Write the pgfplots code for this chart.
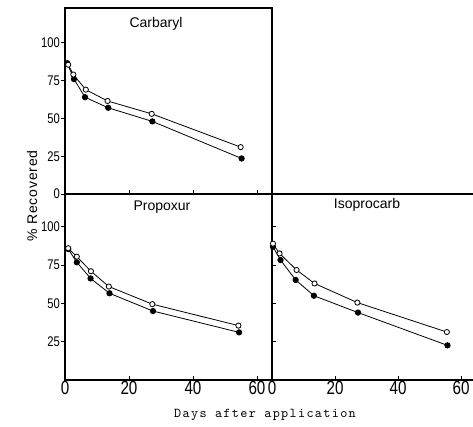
\documentclass[border=0pt]{standalone}
\usepackage{fontspec}
\setmainfont{Liberation Sans}
\newfontfamily\tickfont[FakeStretch=0.8]{Liberation Sans}
\newfontfamily\ylabfont[LetterSpace=6]{Liberation Sans}
\newfontfamily\daysfont[LetterSpace=10]{lmmono10-regular.otf}
\usepackage{pgfplots}
\usepackage{pgfplotstable}
\pgfplotsset{compat=1.18}

\pgfplotstableread{
x y
1.0 85.5
2.6 79
6.5 69
13.3 61.5
27.1 53
54.9 31
}\carbO
\pgfplotstableread{
x y
0.7 86.5
2.8 76
6.25 64
13.5 57
27.3 48
55.2 23.5
}\carbF
\pgfplotstableread{
x y
1.0 86
3.7 80.5
8.1 71
13.7 61
27.3 49.5
54.2 35.5
}\propO
\pgfplotstableread{
x y
1.0 85.5
3.7 76.8
8.0 66.3
13.9 56.6
27.5 45
54.4 31.1
}\propF
\pgfplotstableread{
x y
0.3 89
2.4 82.6
7.8 71.8
13.5 63
27.1 50.5
55.5 31.3
}\isoO
\pgfplotstableread{
x y
0.3 87
2.7 78.3
7.5 65.3
13.3 55
27.3 44
55.7 22.6
}\isoF

\pgfplotsset{
  panel/.style={
    scale only axis, anchor=south west, clip=false,
    xmin=0, ymin=0,
    axis line style={line width=1.2pt},
    major tick length=4pt,
    tick style={line width=0.8pt, black},
    xtick pos=left, ytick pos=left,
    xtick align=inside,
    /pgf/number format/assume math mode=true,
    yticklabel style={font=\fontsize{14}{14}\tickfont, inner sep=1pt},
    xticklabel style={font=\fontsize{19}{19}\tickfont, inner sep=1pt},
  },
  openser/.style={black, line width=0.8pt, mark=*, mark size=2.6pt,
    mark options={fill=white, draw=black, line width=0.8pt}},
  fillser/.style={black, line width=0.8pt, mark=*, mark size=2.7pt,
    mark options={fill=black, draw=black}},
}

\begin{document}
\begin{tikzpicture}[x=1pt,y=1pt]
\useasboundingbox (0pt,0pt) rectangle (473pt,427pt);

% Carbaryl (top left)
\begin{axis}[panel, at={(65pt,233pt)}, width=207pt, height=186pt,
  xmax=64.7, ymax=123,
  ytick={0,25,50,75,100}, ytick align=outside,
  xtick={20,40,60}, xticklabels={}]
\addplot[fillser] table[x=x,y=y] {\carbF};
\addplot[openser] table[x=x,y=y] {\carbO};
\end{axis}

% Propoxur (bottom left)
\begin{axis}[panel, at={(65pt,47pt)}, width=207pt, height=186pt,
  xmax=64.7, ymax=121.4,
  ytick={25,50,75,100}, ytick align=outside,
  xtick={0,20,40,60}]
\addplot[fillser] table[x=x,y=y] {\propF};
\addplot[openser] table[x=x,y=y] {\propO};
\end{axis}

% Isoprocarb (bottom right)
\begin{axis}[panel, at={(272pt,47pt)}, width=201pt, height=186pt,
  xmax=63.8, ymax=121.4,
  axis x line=box, axis y line=left,
  y axis line style={-}, x axis line style={-},
  ytick={25,50,75,100}, yticklabels={}, ytick align=inside,
  xtick={0,20,40,60}]
\addplot[fillser] table[x=x,y=y] {\isoF};
\addplot[openser] table[x=x,y=y] {\isoO};
\end{axis}

\node[font=\fontsize{14}{14}\selectfont] at (156pt,403pt) {Carbaryl};
\node[font=\fontsize{14}{14}\selectfont] at (162pt,220pt) {Propoxur};
\node[font=\fontsize{14}{14}\selectfont] at (367pt,222pt) {Isoprocarb};
\node[rotate=90, font=\fontsize{14}{14}\ylabfont] at (32pt,231pt) {\% Recovered};
\node[font=\fontsize{13.5}{14}\daysfont] at (265pt,12pt) {Days after application};
\end{tikzpicture}
\end{document}
